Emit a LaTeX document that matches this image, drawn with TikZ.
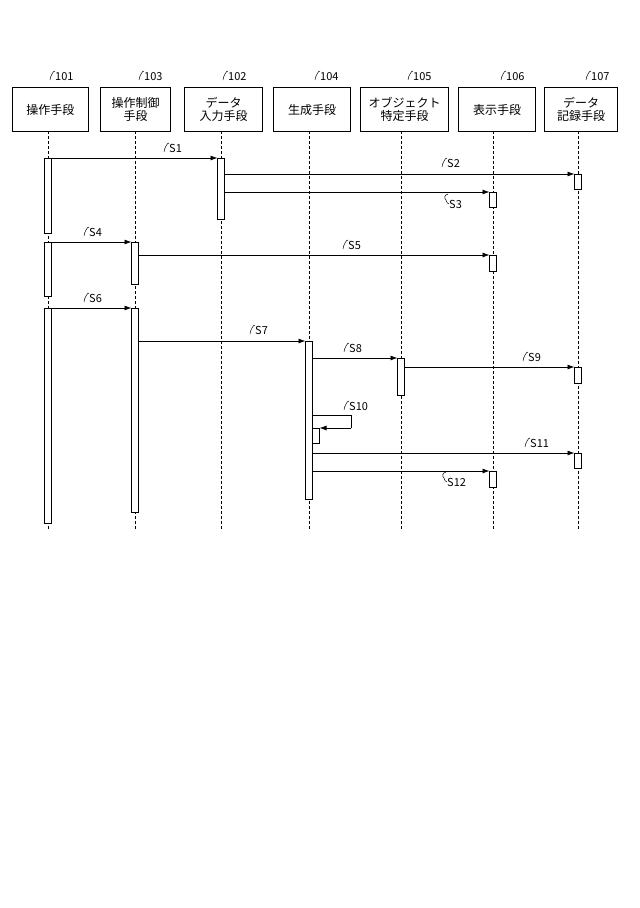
\documentclass[tikz,border=0pt]{standalone}
\usepackage{fontspec}
\setmainfont{Noto Sans CJK JP}
\usetikzlibrary{arrows.meta}
\begin{document}
\begin{tikzpicture}[x=1pt,y=-1pt,
  obj/.style={draw,line width=1pt,minimum height=44pt,inner sep=1pt,font=\fontsize{12}{13}\selectfont,align=center,anchor=north west},
  life/.style={densely dashed,line width=0.5pt},
  act/.style={draw,fill=white,line width=0.8pt},
  msg/.style={-{Latex[length=7pt,width=5pt]},line width=0.8pt},
  lab/.style={font=\fontsize{11}{12}\selectfont,inner sep=0pt,anchor=west},
  sq/.style={line width=0.5pt}]
\useasboundingbox (0,0) rectangle (640,908);
\newcommand{\squig}[2]{\draw[sq] (#1-5,#2+3) .. controls (#1-6,#2) and (#1-3,#2) .. (#1-3,#2-3) .. controls (#1-3,#2-5) and (#1,#2-6) .. (#1,#2-6);}
\newcommand{\squigd}[2]{\draw[sq] (#1-1,#2-6) .. controls (#1-5,#2-5) and (#1-5,#2-2) .. (#1-3,#2) .. controls (#1-1,#2+2) and (#1-3,#2+4) .. (#1,#2+4);}
% objects
\node[obj,minimum width=76pt] (b101) at (12,87) {操作手段};
\node[obj,minimum width=70pt] (b103) at (100,87) {操作制御\\手段};
\node[obj,minimum width=78pt] (b102) at (184,87) {データ\\入力手段};
\node[obj,minimum width=77pt] (b104) at (273,87) {生成手段};
\node[obj,minimum width=88pt] (b105) at (360,87) {オブジェクト\\特定手段};
\node[obj,minimum width=77pt] (b106) at (458,87) {表示手段};
\node[obj,minimum width=73pt] (b107) at (544,87) {データ\\記録手段};
\foreach \x/\n in {55/101,144/103,228/102,320/104,413/105,506/106,591/107}{
  \node[lab] (n\n) at (\x,77) {\n}; \squig{\x}{77}}
% lifelines
\foreach \x/\n in {48/101,135/103,221/102,309/104,401/105,493/106,578/107}{
  \coordinate (t\n) at (\x,131); \coordinate (e\n) at (\x,530);
  \draw[life] (t\n) -- (e\n);}
% activations
\draw[act] (44.5,158) rectangle (51.5,233);
\draw[act] (217.5,158) rectangle (224.5,219);
\draw[act] (574.5,174) rectangle (581.5,189);
\draw[act] (489.5,192) rectangle (496.5,207);
\draw[act] (44.5,242) rectangle (51.5,296);
\draw[act] (131.5,242) rectangle (138.5,284);
\draw[act] (489.5,255) rectangle (496.5,271);
\draw[act] (44.5,308) rectangle (51.5,523);
\draw[act] (131.5,308) rectangle (138.5,512);
\draw[act] (305.5,341) rectangle (312.5,499);
\draw[act] (397.5,358) rectangle (404.5,395);
\draw[act] (574.5,367) rectangle (581.5,383);
\draw[act] (312.5,428) rectangle (319.5,443);
\draw[act] (574.5,453) rectangle (581.5,468);
\draw[act] (489.5,471) rectangle (496.5,487);
% messages
\draw[msg] (51.5,158) -- (217.5,158);
\draw[msg] (224.5,174) -- (574.5,174);
\draw[msg] (224.5,192) -- (489.5,192);
\draw[msg] (51.5,242) -- (131.5,242);
\draw[msg] (138.5,255) -- (489.5,255);
\draw[msg] (51.5,308) -- (131.5,308);
\draw[msg] (138.5,341) -- (305.5,341);
\draw[msg] (312.5,358) -- (397.5,358);
\draw[msg] (404.5,367) -- (574.5,367);
\draw[line width=0.8pt] (312.5,415) -- (351,415) -- (351,428);
\draw[msg] (351,428) -- (319.5,428);
\draw[msg] (312.5,453) -- (574.5,453);
\draw[msg] (312.5,471) -- (489.5,471);
% labels
\node[lab] (s1) at (169,148) {S1}; \squig{169}{149}
\node[lab] (s2) at (447,163) {S2}; \squig{447}{164}
\node[lab] (s3) at (449,204) {S3}; \squigd{449}{200}
\node[lab] (s4) at (89,232) {S4}; \squig{89}{233}
\node[lab] (s5) at (348,245) {S5}; \squig{348}{246}
\node[lab] (s6) at (89,298) {S6}; \squig{89}{299}
\node[lab] (s7) at (255,330) {S7}; \squig{255}{331}
\node[lab] (s8) at (349,348) {S8}; \squig{349}{349}
\node[lab] (s9) at (528,357) {S9}; \squig{528}{358}
\node[lab] (s10) at (349,406) {S10}; \squig{349}{407}
\node[lab] (s11) at (530,443) {S11}; \squig{530}{444}
\node[lab] (s12) at (447,482) {S12}; \squigd{447}{478}
\end{tikzpicture}
\end{document}
